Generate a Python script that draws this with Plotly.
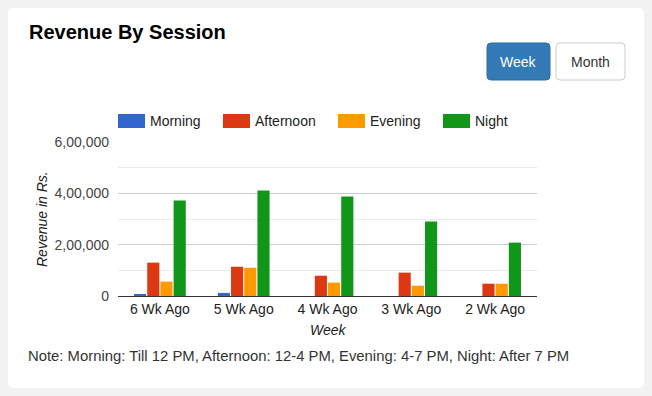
import plotly.graph_objects as go

weeks = ["6 Wk Ago", "5 Wk Ago", "4 Wk Ago", "3 Wk Ago", "2 Wk Ago"]
morning = [5000, 12000, 0, 0, 0]
afternoon = [130000, 114000, 79000, 91000, 48000]
evening = [56000, 110000, 52000, 40000, 48000]
night = [372000, 411000, 388000, 290000, 208000]

series_names = ["Morning", "Afternoon", "Evening", "Night"]
series_values = [morning, afternoon, evening, night]
series_colors = ["#3366cc", "#dc3912", "#ff9900", "#109618"]

y_tickvals = [0, 200000, 400000, 600000]
y_ticktext = ["0", "2,00,000", "4,00,000", "6,00,000"]

W, H = 652, 396
L, R, T, B = 118, 537, 142, 296
FONT = "Liberation Sans, Arial, sans-serif"


def px(x):
    return (x - L) / (R - L)


def py(y):
    return 1 - (y - T) / (B - T)


fig = go.Figure()
for name, vals, col in zip(series_names, series_values, series_colors):
    fig.add_trace(go.Bar(x=weeks, y=vals, name=name, marker_color=col,
                         marker_line_width=0, showlegend=False))

shapes = []
annotations = []


def rrect(x0, y0, x1, y1, r, fill, line, lw=1):
    path = (f"M {px(x0 + r)} {py(y0)} L {px(x1 - r)} {py(y0)} "
            f"Q {px(x1)} {py(y0)} {px(x1)} {py(y0 + r)} "
            f"L {px(x1)} {py(y1 - r)} Q {px(x1)} {py(y1)} {px(x1 - r)} {py(y1)} "
            f"L {px(x0 + r)} {py(y1)} Q {px(x0)} {py(y1)} {px(x0)} {py(y1 - r)} "
            f"L {px(x0)} {py(y0 + r)} Q {px(x0)} {py(y0)} {px(x0 + r)} {py(y0)} Z")
    return dict(type="path", path=path, xref="paper", yref="paper",
                fillcolor=fill, line=dict(color=line, width=lw), layer="below")


# card
shapes.append(rrect(8, 8, 644, 388, 5, "white", "rgba(0,0,0,0)", 0))
# buttons
shapes.append(rrect(487, 43, 550, 80, 4, "#337ab7", "#2e6da4"))
shapes.append(rrect(556, 43, 625, 80, 4, "white", "#cccccc"))


def text(x, y, s, size, color="#222", xanchor="left", yanchor="middle", **kw):
    annotations.append(dict(x=px(x), y=py(y), xref="paper", yref="paper", text=s,
                            showarrow=False, xanchor=xanchor, yanchor=yanchor,
                            borderpad=0,
                            font=dict(family=FONT, size=size, color=color, **kw.pop("font", {})),
                            **kw))


text(28, 32, "<b>Revenue By Session</b>", 20, "#000")
text(518.5, 61.5, "Week", 14, "#ffffff", xanchor="center")
text(590.5, 61.5, "Month", 14, "#333333", xanchor="center")

# legend
leg_x = [118, 223, 338, 443]
for lx, name, col in zip(leg_x, series_names, series_colors):
    shapes.append(dict(type="rect", xref="paper", yref="paper",
                       x0=px(lx), x1=px(lx + 27), y0=py(114), y1=py(128),
                       fillcolor=col, line=dict(width=0)))
    text(lx + 31, 121, name, 14, "#222")

text(42, 219, "Revenue in Rs.", 14, "#222", xanchor="center", textangle=-90,
     font=dict(style="italic"))
text(328, 330, "Week", 14, "#222", xanchor="center", font=dict(style="italic"))
text(27, 356, "Note: Morning: Till 12 PM, Afternoon: 12-4 PM, Evening: 4-7 PM, Night: After 7 PM",
     14.85, "#333")

fig.update_layout(
    width=W, height=H,
    margin=dict(l=L, r=W - R, t=T, b=H - B, pad=0),
    paper_bgcolor="#f2f2f2", plot_bgcolor="white",
    barmode="group", bargap=0.37, bargroupgap=0.08,
    font=dict(family=FONT, size=14, color="#444"),
    shapes=shapes, annotations=annotations,
    hovermode=False,
)
fig.update_xaxes(showgrid=False, ticks="", showline=False,
                 tickfont=dict(size=14, color="#222"), ticklabelstandoff=3)
fig.update_yaxes(range=[0, 600000], tickmode="array", tickvals=y_tickvals,
                 ticktext=y_ticktext, gridcolor="#cccccc", gridwidth=1,
                 zeroline=True, zerolinecolor="#333333", zerolinewidth=1,
                 ticks="", showline=False, tickfont=dict(size=14, color="#444"),
                 ticklabelstandoff=8,
                 minor=dict(tickmode="linear", tick0=0, dtick=100000,
                            showgrid=True, gridcolor="#ebebeb", gridwidth=1))

html = fig.to_html(full_html=True, include_plotlyjs=True,
                   config={"displayModeBar": False})
html = html.replace("<head>", "<head><style>html,body{margin:0;padding:0;background:#f2f2f2;overflow:hidden}</style>", 1)
with open("out.html", "w", encoding="utf-8") as f:
    f.write(html)
